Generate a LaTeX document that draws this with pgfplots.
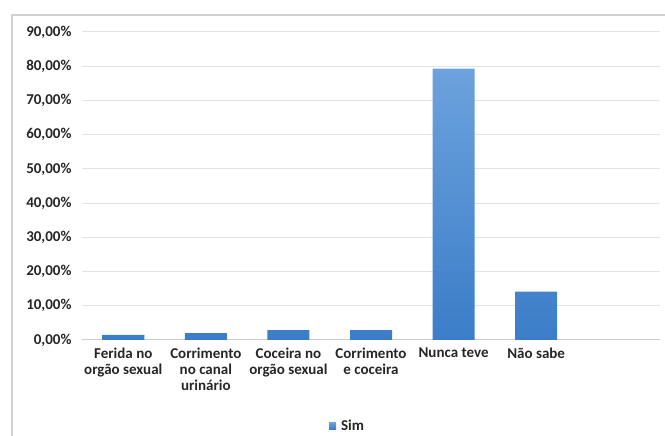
\documentclass[border=0pt]{standalone}
\usepackage{pgfplots}
\pgfplotsset{compat=1.18}
\usepackage{fontspec}
\setmainfont{Carlito}
\definecolor{bartop}{HTML}{6CA2DD}
\definecolor{barbot}{HTML}{3B7DC8}
\definecolor{txt}{HTML}{262626}
\definecolor{grid}{HTML}{E3E3E3}
\begin{document}
\begin{tikzpicture}[x=1bp,y=1bp]
\useasboundingbox (0,0) rectangle (665,436);
\begin{scope}
\clip (0,0) rectangle (665,436);
\draw[line width=1.2bp, draw=black!18] (12,-10) rectangle (680,421);
\end{scope}
\begin{axis}[
  at={(82bp,96bp)}, anchor=south west,
  scale only axis, width=578bp, height=308bp,
  ybar, bar width=42bp,
  xmin=-0.5, xmax=6.5, ymin=0, ymax=90,
  ytick={0,10,...,90},
  yticklabel={\pgfmathprintnumber[fixed,fixed zerofill,precision=2,use comma]{\tick}\%},
  /pgf/number format/assume math mode=true,
  xtick={0,1,2,3,4,5},
  xticklabels={Ferida no\\orgão sexual, Corrimento\\no canal\\urinário, Coceira no\\orgão sexual, Corrimento\\e coceira, Nunca teve, Não sabe},
  xticklabel style={align=center, font=\fontsize{15bp}{16bp}\selectfont\bfseries, text=txt, anchor=north, yshift=-4bp},
  yticklabel style={font=\fontsize{15bp}{16bp}\selectfont\bfseries, text=txt, xshift=-7bp},
  major tick length=0pt,
  ymajorgrids, grid style={draw=grid, line width=1bp},
  axis x line*=bottom, axis y line*=left,
  y axis line style={draw=none},
  x axis line style={draw=black!20, line width=1bp, -},
  legend style={at={(0.462,-0.245)}, anchor=north, draw=none, fill=none,
    font=\fontsize{15bp}{16bp}\selectfont\bfseries, text=txt, nodes={inner xsep=5bp}},
  legend image code/.code={\fill[barbot!85!bartop] (0bp,-3.5bp) rectangle (7bp,3.5bp);},
]
\addplot[draw=none, top color=bartop, bottom color=barbot] coordinates {
  (0,1.5) (1,2.0) (2,2.9) (3,2.9) (4,79.3) (5,14.1)
};
\addlegendentry{Sim}
\end{axis}
\end{tikzpicture}
\end{document}
